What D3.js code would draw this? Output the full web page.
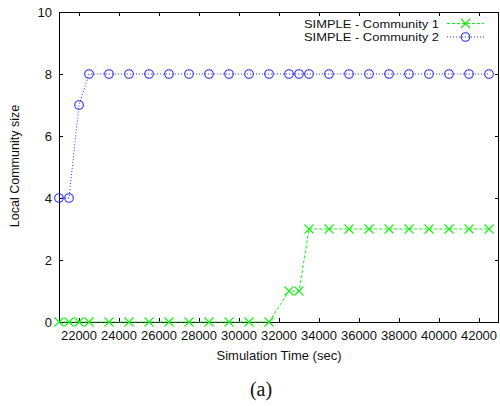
<!DOCTYPE html>
<html><head><meta charset="utf-8">
<script src="https://cdn.jsdelivr.net/npm/d3@7"></script>
<style>body{margin:0;background:#fff}svg{display:block}</style>
</head><body>
<script>
const times = [21000,21500,22000,22500,23500,24500,25500,26500,27500,28500,29500,30500,31500,32500,33000,33500,34500,35500,36500,37500,38500,39500,40500,41500,42500];
const community1 = [0,0,0,0,0,0,0,0,0,0,0,0,0,1,1,3,3,3,3,3,3,3,3,3,3];
const community2 = [4,4,7,8,8,8,8,8,8,8,8,8,8,8,8,8,8,8,8,8,8,8,8,8,8];
const seriesNames = ["SIMPLE - Community 1","SIMPLE - Community 2"];
const xTicks = [22000,24000,26000,28000,30000,32000,34000,36000,38000,40000,42000];
const yTicks = [0,2,4,6,8,10];

const W=500,H=406;
const L=59,R=499,T=12,B=322;
const svg=d3.select("body").append("svg").attr("width",W).attr("height",H);
const x=d3.scaleLinear().domain([21000,43000]).range([L,R]);
const y=d3.scaleLinear().domain([0,10]).range([B,T]);
const font="'Liberation Sans', Arial, sans-serif";

// ticks (mirrored, inward)
const tl=4;
const g=svg.append("g").attr("stroke","#000").attr("stroke-width",1);
xTicks.forEach(t=>{
  const px=Math.round(x(t))+0.5;
  g.append("line").attr("x1",px).attr("x2",px).attr("y1",B).attr("y2",B-tl);
  g.append("line").attr("x1",px).attr("x2",px).attr("y1",T).attr("y2",T+tl);
});
yTicks.forEach(t=>{
  const py=Math.round(y(t))+0.5;
  g.append("line").attr("x1",L).attr("x2",L+tl).attr("y1",py).attr("y2",py);
  g.append("line").attr("x1",R).attr("x2",R-tl).attr("y1",py).attr("y2",py);
});
svg.append("rect").attr("x",L+0.5).attr("y",T+0.5).attr("width",R-L-1).attr("height",B-T)
  .attr("fill","none").attr("stroke","#000").attr("stroke-width",1);

// tick labels
svg.append("g").selectAll("text").data(xTicks).join("text")
  .attr("x",d=>x(d)).attr("y",340).attr("text-anchor","middle")
  .attr("font-family",font).attr("font-size",13).attr("fill","#111").text(d=>d);
svg.append("g").selectAll("text").data(yTicks).join("text")
  .attr("x",52).attr("y",d=>y(d)+4.6).attr("text-anchor","end")
  .attr("font-family",font).attr("font-size",13).attr("fill","#111").text(d=>d);

// axis titles
svg.append("text").attr("x",279).attr("y",360).attr("text-anchor","middle")
  .attr("font-family",font).attr("font-size",13).attr("fill","#111").text("Simulation Time (sec)");
svg.append("text").attr("transform","translate(19,166) rotate(-90)").attr("text-anchor","middle")
  .attr("font-family",font).attr("font-size",12.5).attr("fill","#111").text("Local Community size");
svg.append("text").attr("x",261).attr("y",396).attr("text-anchor","middle")
  .attr("font-family","'Liberation Serif','Times New Roman',serif").attr("font-size",20).attr("fill","#111").text("(a)");

const c1="#11ee11", c2="#2a2aff";
const line=d3.line().x(d=>x(d[0])).y(d=>y(d[1]));
const d1=times.map((t,i)=>[t,community1[i]]);
const d2=times.map((t,i)=>[t,community2[i]]);

function cross(sel,px,py,col){
  const s=4.5;
  sel.append("path").attr("d",`M${px-s},${py-s}L${px+s},${py+s}M${px-s},${py+s}L${px+s},${py-s}`)
    .attr("stroke",col).attr("stroke-width",1.1).attr("fill","none");
}
function circ(sel,px,py,col){
  sel.append("circle").attr("cx",px).attr("cy",py).attr("r",4.3)
    .attr("stroke",col).attr("stroke-width",1.1).attr("fill","none");
}

const plot=svg.append("g");
plot.append("path").datum(d1).attr("d",line).attr("fill","none").attr("stroke",c1)
  .attr("stroke-width",1).attr("stroke-dasharray","3,2");
plot.append("path").datum(d2).attr("d",line).attr("fill","none").attr("stroke",c2)
  .attr("stroke-width",1).attr("stroke-dasharray","1,2");
d1.forEach(d=>cross(plot,x(d[0]),y(d[1]),c1));
d2.forEach(d=>circ(plot,x(d[0]),y(d[1]),c2));

// legend
const leg=svg.append("g");
const rows=[{name:seriesNames[0],col:c1,dash:"3,2",m:cross,yy:23.5},{name:seriesNames[1],col:c2,dash:"1,2",m:circ,yy:37}];
rows.forEach(r=>{
  leg.append("text").attr("x",439).attr("y",r.yy+4.2).attr("text-anchor","end")
    .attr("font-family",font).attr("font-size",11.5).attr("fill","#111")
    .attr("textLength",135).attr("lengthAdjust","spacingAndGlyphs").text(r.name);
  leg.append("line").attr("x1",447).attr("x2",484).attr("y1",r.yy).attr("y2",r.yy)
    .attr("stroke",r.col).attr("stroke-width",1).attr("stroke-dasharray",r.dash);
  r.m(leg,465.5,r.yy,r.col);
});
</script>
</body></html>
